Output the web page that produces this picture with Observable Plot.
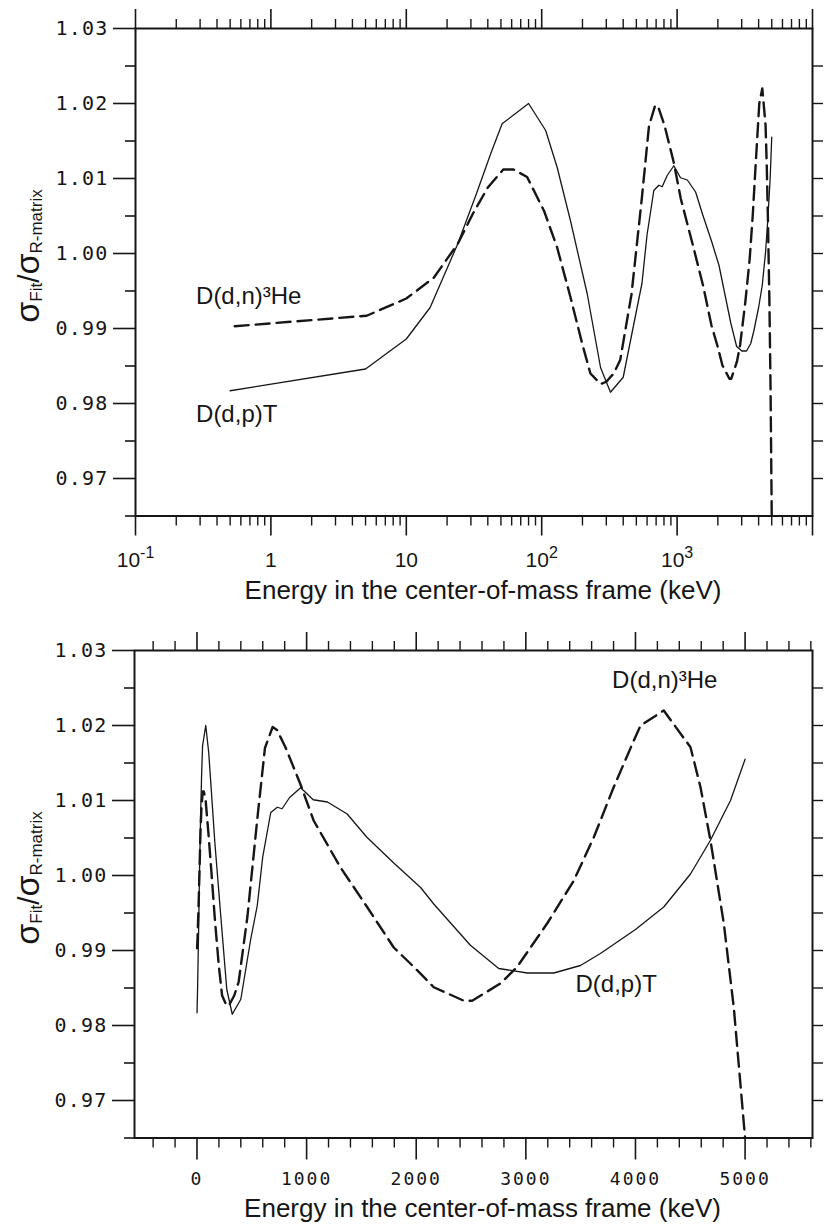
<!DOCTYPE html>
<html>
<head>
<meta charset="utf-8">
<script src="https://cdn.jsdelivr.net/npm/d3@7"></script>
<script src="https://cdn.jsdelivr.net/npm/@observablehq/plot@0.6"></script>
<style>
html, body { margin: 0; padding: 0; background: #fff; }
#chart svg { display: block; }
g[aria-label="y-axis tick label"] text { letter-spacing: 1.2px; }
#bottom g[aria-label="x-axis tick label"] text { letter-spacing: 2px; }
</style>
</head>
<body>
<div id="chart"><div id="top"></div><div id="bottom"></div></div>
<script>
// ---- D(d,p)T : sigma_Fit / sigma_R-matrix vs centre-of-mass energy (keV)
const dpEnergy = [0.5, 5, 10, 15, 24, 33, 42, 51, 80, 107, 130, 163, 217, 272, 322, 400, 490, 550, 600, 673, 733, 776, 845, 946, 1060, 1190, 1370, 1550, 1800, 2040, 2160, 2494, 2753, 3012, 3255, 3498, 3680, 4000, 4258, 4502, 4684, 4867, 5000];
const dpRatio  = [0.9817, 0.9846, 0.9886, 0.9928, 1.0013, 1.0080, 1.0133, 1.0173, 1.0200, 1.0164, 1.0115, 1.0044, 0.9946, 0.9848, 0.9815, 0.9835, 0.9915, 0.9960, 1.0025, 1.0084, 1.0091, 1.0089, 1.0104, 1.0117, 1.0101, 1.0098, 1.0082, 1.0051, 1.0016, 0.9984, 0.9962, 0.9907, 0.9876, 0.9870, 0.9870, 0.9880, 0.9896, 0.9928, 0.9958, 1.0002, 1.0047, 1.0100, 1.0155];

// ---- D(d,n)3He
const dnEnergy = [0.54, 5.1, 10, 16, 24, 31, 40, 52, 62, 78, 104, 130, 163, 199, 229, 272, 300, 340, 380, 460, 550, 620, 690, 730, 807, 943, 1065, 1308, 1552, 1795, 1993, 2160, 2434, 2510, 2768, 2920, 3194, 3437, 3620, 3802, 3985, 4046, 4258, 4502, 4593, 4684, 4806, 4897, 5000];
const dnRatio  = [0.9903, 0.9917, 0.9940, 0.9968, 1.0013, 1.0053, 1.0088, 1.0112, 1.0112, 1.0102, 1.0057, 1.0008, 0.9942, 0.9880, 0.9840, 0.9826, 0.9829, 0.9840, 0.9858, 0.9945, 1.0075, 1.0170, 1.0198, 1.0194, 1.0171, 1.0122, 1.0073, 1.0011, 0.9958, 0.9904, 0.9876, 0.9851, 0.9833, 0.9833, 0.9856, 0.9878, 0.9936, 0.9993, 1.0051, 1.0118, 1.0180, 1.0200, 1.0220, 1.0171, 1.0118, 1.0047, 0.9936, 0.9824, 0.9650];

// ---- curve labels
const labelText = ["D(d,n)³He", "D(d,p)T"];
const labelTopEnergy = [0.28, 0.28];
const labelTopRatio = [0.9943, 0.9785];
const labelBottomEnergy = [3787, 3453];
const labelBottomRatio = [1.0260, 0.9855];

// ---- axes
const yMajorTicks = [0.97, 0.98, 0.99, 1.00, 1.01, 1.02, 1.03];
const yMinorTicks = [0.965, 0.975, 0.985, 0.995, 1.005, 1.015, 1.025];
const yRightTicks = [0.97, 0.975, 0.98, 0.985, 0.99, 0.995, 1.00, 1.005, 1.01, 1.015, 1.02, 1.025];
const logMajorTicks = [0.1, 1, 10, 100, 1000, 10000];
const logTickLabels = ["10^-1", "1", "10", "10^2", "10^3", ""];
const logMinorTicks = [0.2, 0.3, 0.4, 0.5, 0.6, 0.7, 0.8, 0.9, 2, 3, 4, 5, 6, 7, 8, 9, 20, 30, 40, 50, 60, 70, 80, 90, 200, 300, 400, 500, 600, 700, 800, 900, 2000, 3000, 4000, 5000, 6000, 7000, 8000, 9000];
const linMajorTicks = [0, 1000, 2000, 3000, 4000, 5000];
const linTickLabels = ["0", "1000", "2000", "3000", "4000", "5000"];
const linMinorTicks = [-400, -200, 200, 400, 600, 800, 1200, 1400, 1600, 1800, 2200, 2400, 2600, 2800, 3200, 3400, 3600, 3800, 4200, 4400, 4600, 4800, 5200, 5400, 5600];
const xTitle = "Energy in the center-of-mass frame (keV)";

const dp = dpEnergy.map((e, i) => ({energy: e, ratio: dpRatio[i]}));
const dn = dnEnergy.map((e, i) => ({energy: e, ratio: dnRatio[i]}));
const labelsTop = labelText.map((t, i) => ({text: t, energy: labelTopEnergy[i], ratio: labelTopRatio[i]}));
const labelsBottom = labelText.map((t, i) => ({text: t, energy: labelBottomEnergy[i], ratio: labelBottomRatio[i]}));

const ink = "#161616";
const sans = "Liberation Sans, Arial, Helvetica, sans-serif";
const mono = "DejaVu Sans Mono, Liberation Mono, monospace";
const blank = () => "";

function yAxes() {
  return [
    Plot.axisY({ticks: yMajorTicks, anchor: "left", tickSize: 22, tickPadding: 5,
      tickFormat: d => d.toFixed(2), fontFamily: mono, fontSize: 20, stroke: ink, strokeWidth: 1.6, label: null}),
    Plot.axisY({ticks: yMinorTicks, anchor: "left", tickSize: 10, tickFormat: blank, stroke: ink, strokeWidth: 1.6, label: null}),
    Plot.axisY({ticks: yRightTicks, anchor: "right", tickSize: 10, tickFormat: blank, stroke: ink, strokeWidth: 1.4, label: null})
  ];
}

function curves() {
  return [
    Plot.line(dp, {x: "energy", y: "ratio", stroke: ink, strokeWidth: 1.3, clip: true}),
    Plot.line(dn, {x: "energy", y: "ratio", stroke: ink, strokeWidth: 2.4, strokeDasharray: "14,7", clip: true})
  ];
}

function yLabel(svg, cy) {
  const t = d3.select(svg).append("text")
    .attr("transform", `translate(39,${cy}) rotate(-90)`)
    .attr("text-anchor", "middle")
    .attr("font-family", sans)
    .attr("fill", ink);
  t.append("tspan").attr("font-size", 34).text("σ");
  t.append("tspan").attr("font-size", 17).attr("dy", 3).text("Fit");
  t.append("tspan").attr("font-size", 30).attr("dy", -3).text("/");
  t.append("tspan").attr("font-size", 34).text("σ");
  t.append("tspan").attr("font-size", 17).attr("dy", 3).text("R-matrix");
}

// turn "10^2" tick labels into 10 with a raised exponent
function superscripts(svg) {
  d3.select(svg).selectAll('g[aria-label="x-axis tick label"] text').each(function() {
    const s = this.textContent;
    if (!s.includes("^")) return;
    const [base, exp] = s.split("^");
    const t = d3.select(this);
    t.text(base);
    t.append("tspan").attr("font-size", 16).attr("dy", -9).text(exp);
  });
}

const topPlot = Plot.plot({
  width: 826, height: 615,
  marginLeft: 135, marginRight: 14, marginTop: 28, marginBottom: 99.5,
  style: {fontFamily: sans, background: "#fff", color: ink},
  x: {type: "log", domain: [0.1, 10000], label: null},
  y: {domain: [0.965, 1.03], label: null},
  marks: [
    Plot.frame({stroke: ink, strokeWidth: 2}),
    ...yAxes(),
    Plot.axisX({ticks: logMajorTicks, anchor: "bottom", tickSize: 20, tickPadding: 16,
      tickFormat: d => logTickLabels[logMajorTicks.indexOf(d)], fontFamily: sans, fontSize: 21, stroke: ink, strokeWidth: 1.6, label: null}),
    Plot.axisX({ticks: logMinorTicks, anchor: "bottom", tickSize: 10, tickFormat: blank, stroke: ink, strokeWidth: 1.4, label: null}),
    Plot.axisX({ticks: logMajorTicks, anchor: "top", tickSize: 20, tickFormat: blank, stroke: ink, strokeWidth: 1.6, label: null}),
    Plot.axisX({ticks: logMinorTicks, anchor: "top", tickSize: 10, tickFormat: blank, stroke: ink, strokeWidth: 1.4, label: null}),
    ...curves(),
    Plot.text(labelsTop, {x: "energy", y: "ratio", text: "text", textAnchor: "start", fontSize: 24, fill: ink}),
    Plot.text([xTitle], {frameAnchor: "bottom", lineAnchor: "bottom", dy: 83, dx: 9, fontSize: 26, fill: ink})
  ]
});
superscripts(topPlot);
yLabel(topPlot, 256);
document.getElementById("top").appendChild(topPlot);

const bottomPlot = Plot.plot({
  width: 826, height: 612,
  marginLeft: 134, marginRight: 14, marginTop: 35, marginBottom: 89.5,
  style: {fontFamily: sans, background: "#fff", color: ink},
  x: {domain: [-570, 5615], label: null},
  y: {domain: [0.965, 1.03], label: null},
  marks: [
    Plot.frame({stroke: ink, strokeWidth: 2}),
    ...yAxes(),
    Plot.axisX({ticks: linMajorTicks, anchor: "bottom", tickSize: 22, tickPadding: 12,
      tickFormat: d => linTickLabels[linMajorTicks.indexOf(d)], fontFamily: mono, fontSize: 18, stroke: ink, strokeWidth: 1.6, label: null}),
    Plot.axisX({ticks: linMinorTicks, anchor: "bottom", tickSize: 10, tickFormat: blank, stroke: ink, strokeWidth: 1.4, label: null}),
    Plot.axisX({ticks: linMajorTicks, anchor: "top", tickSize: 19, tickFormat: blank, stroke: ink, strokeWidth: 1.6, label: null}),
    Plot.axisX({ticks: linMinorTicks, anchor: "top", tickSize: 10, tickFormat: blank, stroke: ink, strokeWidth: 1.4, label: null}),
    ...curves(),
    Plot.text(labelsBottom, {x: "energy", y: "ratio", text: "text", textAnchor: "start", fontSize: 24, fill: ink}),
    Plot.text([xTitle], {frameAnchor: "bottom", lineAnchor: "bottom", dy: 79, dx: 9, fontSize: 26, fill: ink})
  ]
});
yLabel(bottomPlot, 263);
document.getElementById("bottom").appendChild(bottomPlot);
</script>
</body>
</html>
